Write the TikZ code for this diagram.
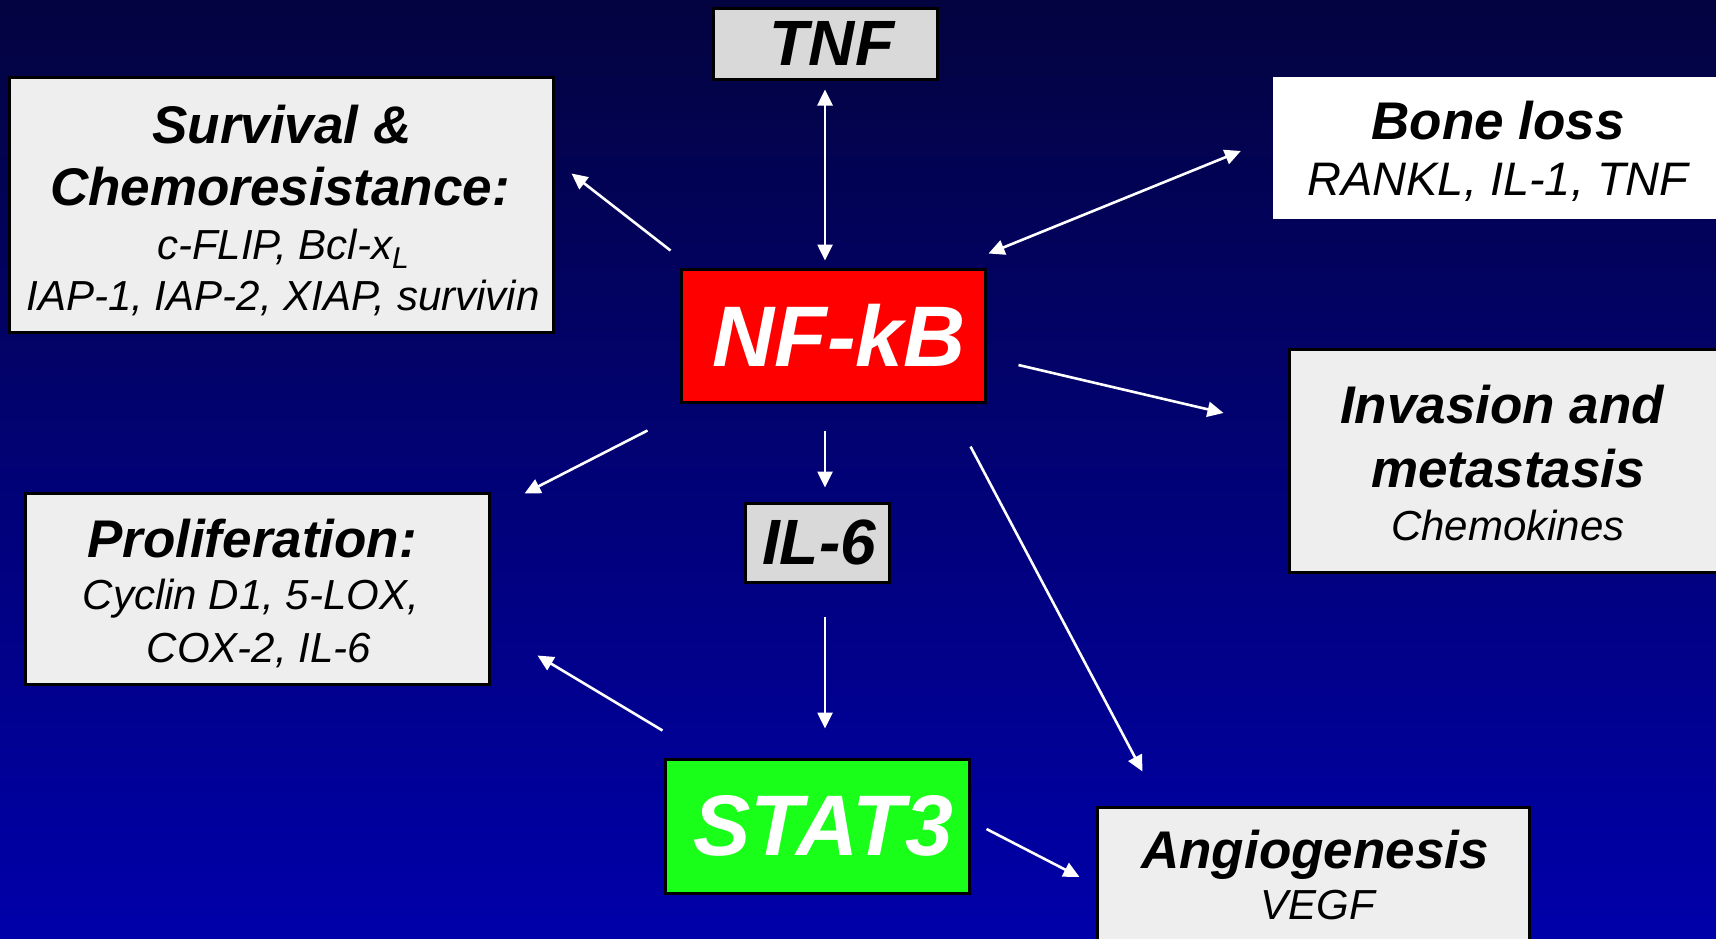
\documentclass[tikz,border=0pt]{standalone}
\usepackage{fontspec}
\setmainfont{Liberation Sans}
\usetikzlibrary{arrows.meta,calc}

\definecolor{bgtop}{RGB}{3,3,64}
\definecolor{bgmid}{RGB}{0,0,122}
\definecolor{bgbot}{RGB}{0,0,170}
\definecolor{panelgray}{RGB}{238,238,238}
\definecolor{taggray}{RGB}{217,217,217}
\definecolor{nfred}{RGB}{255,0,0}
\definecolor{statgreen}{RGB}{26,255,26}

\newcommand\hdfont{\fontsize{53}{60}\selectfont\bfseries\itshape}
\newcommand\sbfont{\fontsize{42}{48}\selectfont\itshape}
\newcommand\tagfont{\fontsize{64}{70}\selectfont\bfseries\itshape}
\newcommand\keyfont{\fontsize{86}{90}\selectfont\bfseries\itshape}

\tikzset{
  panel/.style={rectangle, draw=black, line width=3pt, inner sep=0pt},
  hd/.style={font=\hdfont, text=black, anchor=base, inner sep=0pt},
  sb/.style={font=\sbfont, text=black, anchor=base, inner sep=0pt},
  tip/.tip={Triangle[length=16pt,width=15pt]},
  arr/.style={draw=white, line width=2.6pt, -tip},
  arrtwo/.style={draw=white, line width=2.6pt, tip-tip}
}

\begin{document}
\begin{tikzpicture}[x=1pt,y=-1pt]
  \useasboundingbox (0,0) rectangle (1716,938);
  \clip (0,0) rectangle (1716,938);
  \shade[top color=bgtop, middle color=bgmid, bottom color=bgbot] (0,0) rectangle (1716,938);

  % boxes
  \node[panel, fill=taggray, minimum width=224pt, minimum height=71pt, font=\tagfont] (tnf) at (825,43.5) {\hspace*{14pt}TNF};
  \node[panel, fill=panelgray, minimum width=544pt, minimum height=255pt] (surv) at (281,204.5) {};
  \node[rectangle, fill=white, inner sep=0pt, minimum width=457pt, minimum height=142pt] (bone) at (1501.5,148) {};
  \node[panel, fill=nfred, text=white, minimum width=304pt, minimum height=133pt, font=\keyfont] (nfkb) at (833,335.5) {\hspace*{12pt}NF-kB};
  \node[panel, fill=panelgray, minimum width=441pt, minimum height=223pt] (inv) at (1509.5,460.5) {};
  \node[panel, fill=panelgray, minimum width=464pt, minimum height=191pt] (prol) at (257,588.5) {};
  \node[panel, fill=taggray, minimum width=144pt, minimum height=79pt, font=\tagfont] (il6) at (817,542.5) {\hspace*{4pt}IL-6};
  \node[panel, fill=statgreen, text=white, minimum width=304pt, minimum height=134pt, font=\keyfont] (stat) at (817,826) {\hspace*{12pt}STAT3};
  \node[panel, fill=panelgray, minimum width=432pt, minimum height=153pt] (angio) at (1313,883.5) {};

  % box texts
  \node[hd] (survA) at (282,143) {Survival \&};
  \node[hd] (survB) at (280,205) {Chemoresistance:};
  \node[sb] (survC) at (283,259) {c-FLIP, Bcl-x\raisebox{-9pt}{\fontsize{30}{32}\selectfont L}};
  \node[sb] (survD) at (283,310) {IAP-1, IAP-2, XIAP, survivin};

  \node[hd] (boneA) at (1498,139) {Bone loss};
  \node[sb, font=\fontsize{47}{52}\selectfont\itshape] (boneB) at (1498,195) {RANKL, IL-1, TNF};

  \node[hd] (invA) at (1502,423) {Invasion and};
  \node[hd] (invB) at (1508,487) {metastasis};
  \node[sb] (invC) at (1508,540) {Chemokines};

  \node[hd] (prolA) at (252,557) {Proliferation:};
  \node[sb] (prolB) at (251,609) {Cyclin D1, 5-LOX,};
  \node[sb] (prolC) at (259,662) {COX-2, IL-6};

  \node[hd] (angioA) at (1315,868) {Angiogenesis};
  \node[sb] (angioB) at (1318,919) {VEGF};

  % connectors
  \draw[arrtwo] ($(tnf.south)+(0,9)$) -- ($(tnf.south |- nfkb.north)+(0,-7)$);
  \draw[arr] ($(nfkb.north west)+(-9,-17)$) -- ($(surv.east)+(17,-31)$);
  \draw[arrtwo] ($(nfkb.north east)+(2,-14)$) -- ($(bone.west)+(-32,3)$);
  \draw[arr] ($(nfkb.east)+(32,29.5)$) -- ($(inv.west)+(-64,-47.5)$);
  \draw[arr] ($(nfkb.south west)+(-32,27)$) -- ($(prol.north east)+(34,2)$);
  \draw[arr] ($(nfkb.south)+(-8,27)$) -- ($(il6.north)+(8,-14)$);
  \draw[arr] ($(nfkb.south east)+(-16,43)$) -- ($(angio.north west)+(47,-34)$);
  \draw[arr] ($(il6.south)+(8,33)$) -- ($(stat.north)+(8,-29)$);
  \draw[arr] ($(stat.north west)+(-1,-27)$) -- ($(prol.south east)+(47,-30)$);
  \draw[arr] ($(stat.east)+(16,3)$) -- ($(angio.west)+(-16,-6.5)$);
\end{tikzpicture}
\end{document}
